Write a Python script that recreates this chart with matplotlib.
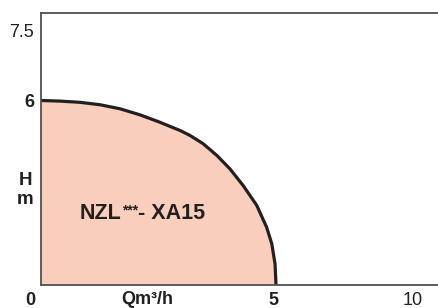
import matplotlib
matplotlib.use("Agg")
import matplotlib.pyplot as plt

plt.rcParams['font.family'] = ['Liberation Sans', 'DejaVu Sans']

# Curve (flow Q in m3/h, head H in m)
q = [0.0, 0.40, 0.83, 1.26, 1.68, 2.11, 2.53, 2.96, 3.17, 3.45, 3.74,
     4.02, 4.30, 4.59, 4.80, 4.91, 4.98, 5.0]
h = [6.0, 5.98, 5.94, 5.86, 5.73, 5.53, 5.29, 5.02, 4.86, 4.59, 4.21,
     3.77, 3.23, 2.58, 1.87, 1.33, 0.67, 0.0]

# Tick labels (the printed chart places "10" and "7.5" near the ends of the axes)
x_tick_pos = [0, 5, 7.91]
x_tick_lbl = ["0", "5", "10"]
x_tick_bold = [True, True, False]
y_tick_pos = [6, 8.28]
y_tick_lbl = ["6", "7.5"]
y_tick_bold = [True, False]

model_main = "NZL"
model_sup = "***"
model_tail = "- XA15"
fill_color = "#F9CEBD"
line_color = "#231F20"
text_color = "#231F20"

fig = plt.figure(figsize=(4.38, 3.08), dpi=100)
ax = fig.add_axes([41/438, 23.5/308, 397/438, 271.5/308])
ax.set_xlim(0, 397/47)
ax.set_ylim(0, 271.5/30.67)

ax.fill_between(q, h, 0, color=fill_color, lw=0)
ax.plot(q, h, color=line_color, lw=2.3, solid_capstyle='butt',
        solid_joinstyle='round')

for s in ['left', 'bottom', 'top']:
    ax.spines[s].set_color('#505050')
    ax.spines[s].set_linewidth(1.3)
ax.spines['right'].set_visible(False)

ax.set_xticks(x_tick_pos)
ax.set_xticklabels(x_tick_lbl)
ax.set_yticks(y_tick_pos)
ax.set_yticklabels(y_tick_lbl)
ax.tick_params(axis='x', length=0, labelsize=13, colors=text_color, pad=5.5)
ax.tick_params(axis='y', length=0, labelsize=13, colors=text_color, pad=5)
for t, b in zip(ax.get_xticklabels(), x_tick_bold):
    t.set_fontweight('bold' if b else 'normal')
for t, b in zip(ax.get_yticklabels(), y_tick_bold):
    t.set_fontweight('bold' if b else 'normal')

fig.canvas.draw()
# shift the origin label slightly left, as printed
lbl0 = ax.get_xticklabels()[0]
lbl0.set_transform(lbl0.get_transform() + matplotlib.transforms.Affine2D().translate(-11, 0))
lbl5 = ax.get_xticklabels()[1]
lbl5.set_transform(lbl5.get_transform() + matplotlib.transforms.Affine2D().translate(-3, 0))

fig.text(147/438, 1 - 300/308, "Qm³/h", ha='center', va='center',
         fontsize=13, fontweight='bold', color=text_color)
fig.text(25/438, 1 - 190/308, "H\nm", ha='center', va='center',
         fontsize=13.5, fontweight='bold', color=text_color, linespacing=1.1)

t1 = ax.text(80/47 - 41/47, 2.12, model_main, ha='left', va='baseline',
             fontsize=15.5, fontweight='bold', color=text_color)
t2 = ax.annotate(model_sup, xy=(1, 0.98), xycoords=t1, ha='left', va='top',
                 fontsize=10, fontweight='bold', color=text_color)
t3 = ax.annotate(model_tail, xy=(1, 0), xycoords=(t2, t1), ha='left',
                 va='bottom', fontsize=15.5, fontweight='bold', color=text_color)

fig.savefig("out.png", dpi=100)
